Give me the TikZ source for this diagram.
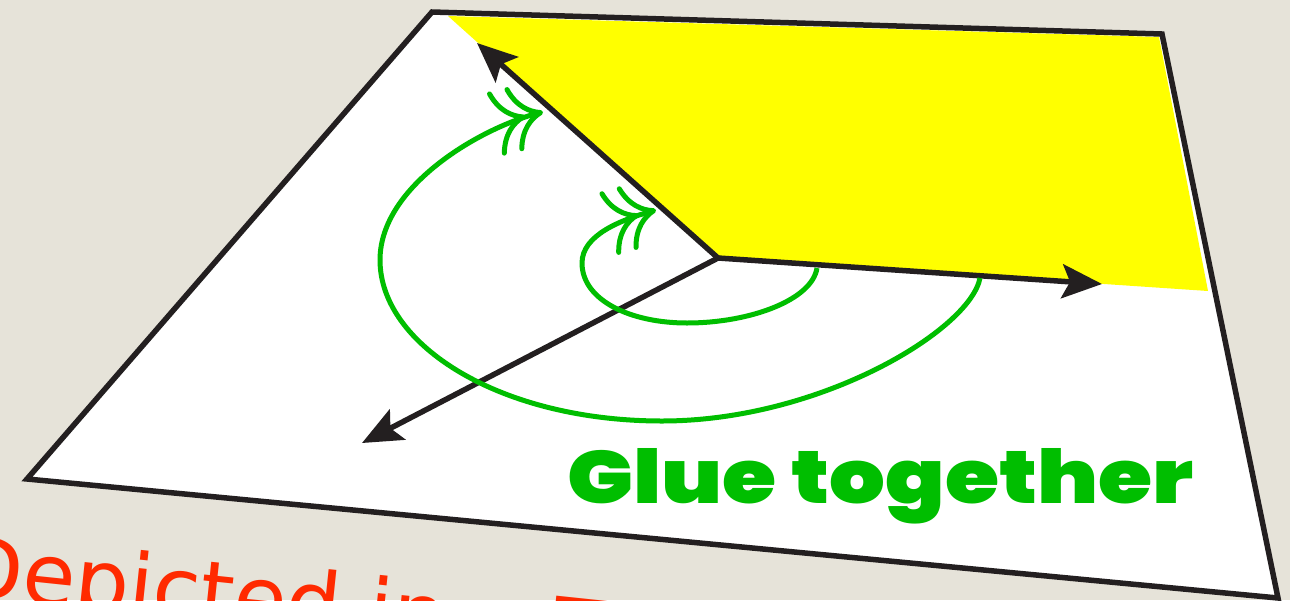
\documentclass[tikz,border=0pt]{standalone}
\usepackage{fontspec}
\usepackage{graphicx}
\usetikzlibrary{arrows.meta}
\newfontfamily\gluefont{Poppins Black}
\newfontfamily\handfont{DejaVu Sans}
\definecolor{paper}{RGB}{230,227,217}
\definecolor{edgeblack}{RGB}{35,31,32}
\definecolor{gluegreen}{RGB}{0,190,0}
\definecolor{inkred}{RGB}{255,42,0}
\definecolor{sheetyellow}{RGB}{255,255,0}
\begin{document}
\begin{tikzpicture}[x=1pt,y=-1pt,
    edge/.style={edgeblack,line width=5.5pt},
    axis/.style={edge,-{Stealth[length=40pt,width=34pt,inset=8pt]}},
    glue/.style={gluegreen,line width=5pt,-{Computer Modern Rightarrow[length=32pt,width=66pt,sep=-14pt]Computer Modern Rightarrow[length=32pt,width=66pt]}}]
    \clip (0,0) rectangle (1290,600);
    \fill[paper] (0,0) rectangle (1290,600);
    \coordinate (nw) at (432,12); \coordinate (ne) at (1162,34);
    \coordinate (se) at (1278,598); \coordinate (sw) at (27,479);
    \coordinate (O) at (718,258);
    \coordinate (A) at (477,43); \coordinate (B) at (1102,284); \coordinate (C) at (362,443);
    \fill[white] (nw) -- (ne) -- (se) -- (sw) -- cycle;
    \fill[sheetyellow] (O) -- (448,16) -- (1159,37) -- (1208,291) -- cycle;
    \draw[edge,line join=miter] (nw) -- (ne) -- (se) -- (sw) -- cycle;
    \draw[axis] (O) -- (A); \draw[axis] (O) -- (B); \draw[axis] (O) -- (C);
    \draw[glue] (980,278) .. controls (970,330) and (820,421) .. (662,421)
        .. controls (500,421) and (380,345) .. (380,260)
        .. controls (380,185) and (483,127) .. (543,112);
    \draw[glue] (817,268) .. controls (812,300) and (750,323) .. (687,323)
        .. controls (630,323) and (582,300) .. (582,263)
        .. controls (582,235) and (621,220) .. (656,210);
    \node[gluegreen,anchor=base west,inner sep=0] (gluetext) at (567,503) {\resizebox{626pt}{55pt}{\gluefont Glue together}};
    \node[inkred,anchor=base west,rotate=-6,inner sep=0,font=\handfont\fontsize{86}{86}\selectfont] (note) at (-46,596) {Depicted in a T};
\end{tikzpicture}
\end{document}
